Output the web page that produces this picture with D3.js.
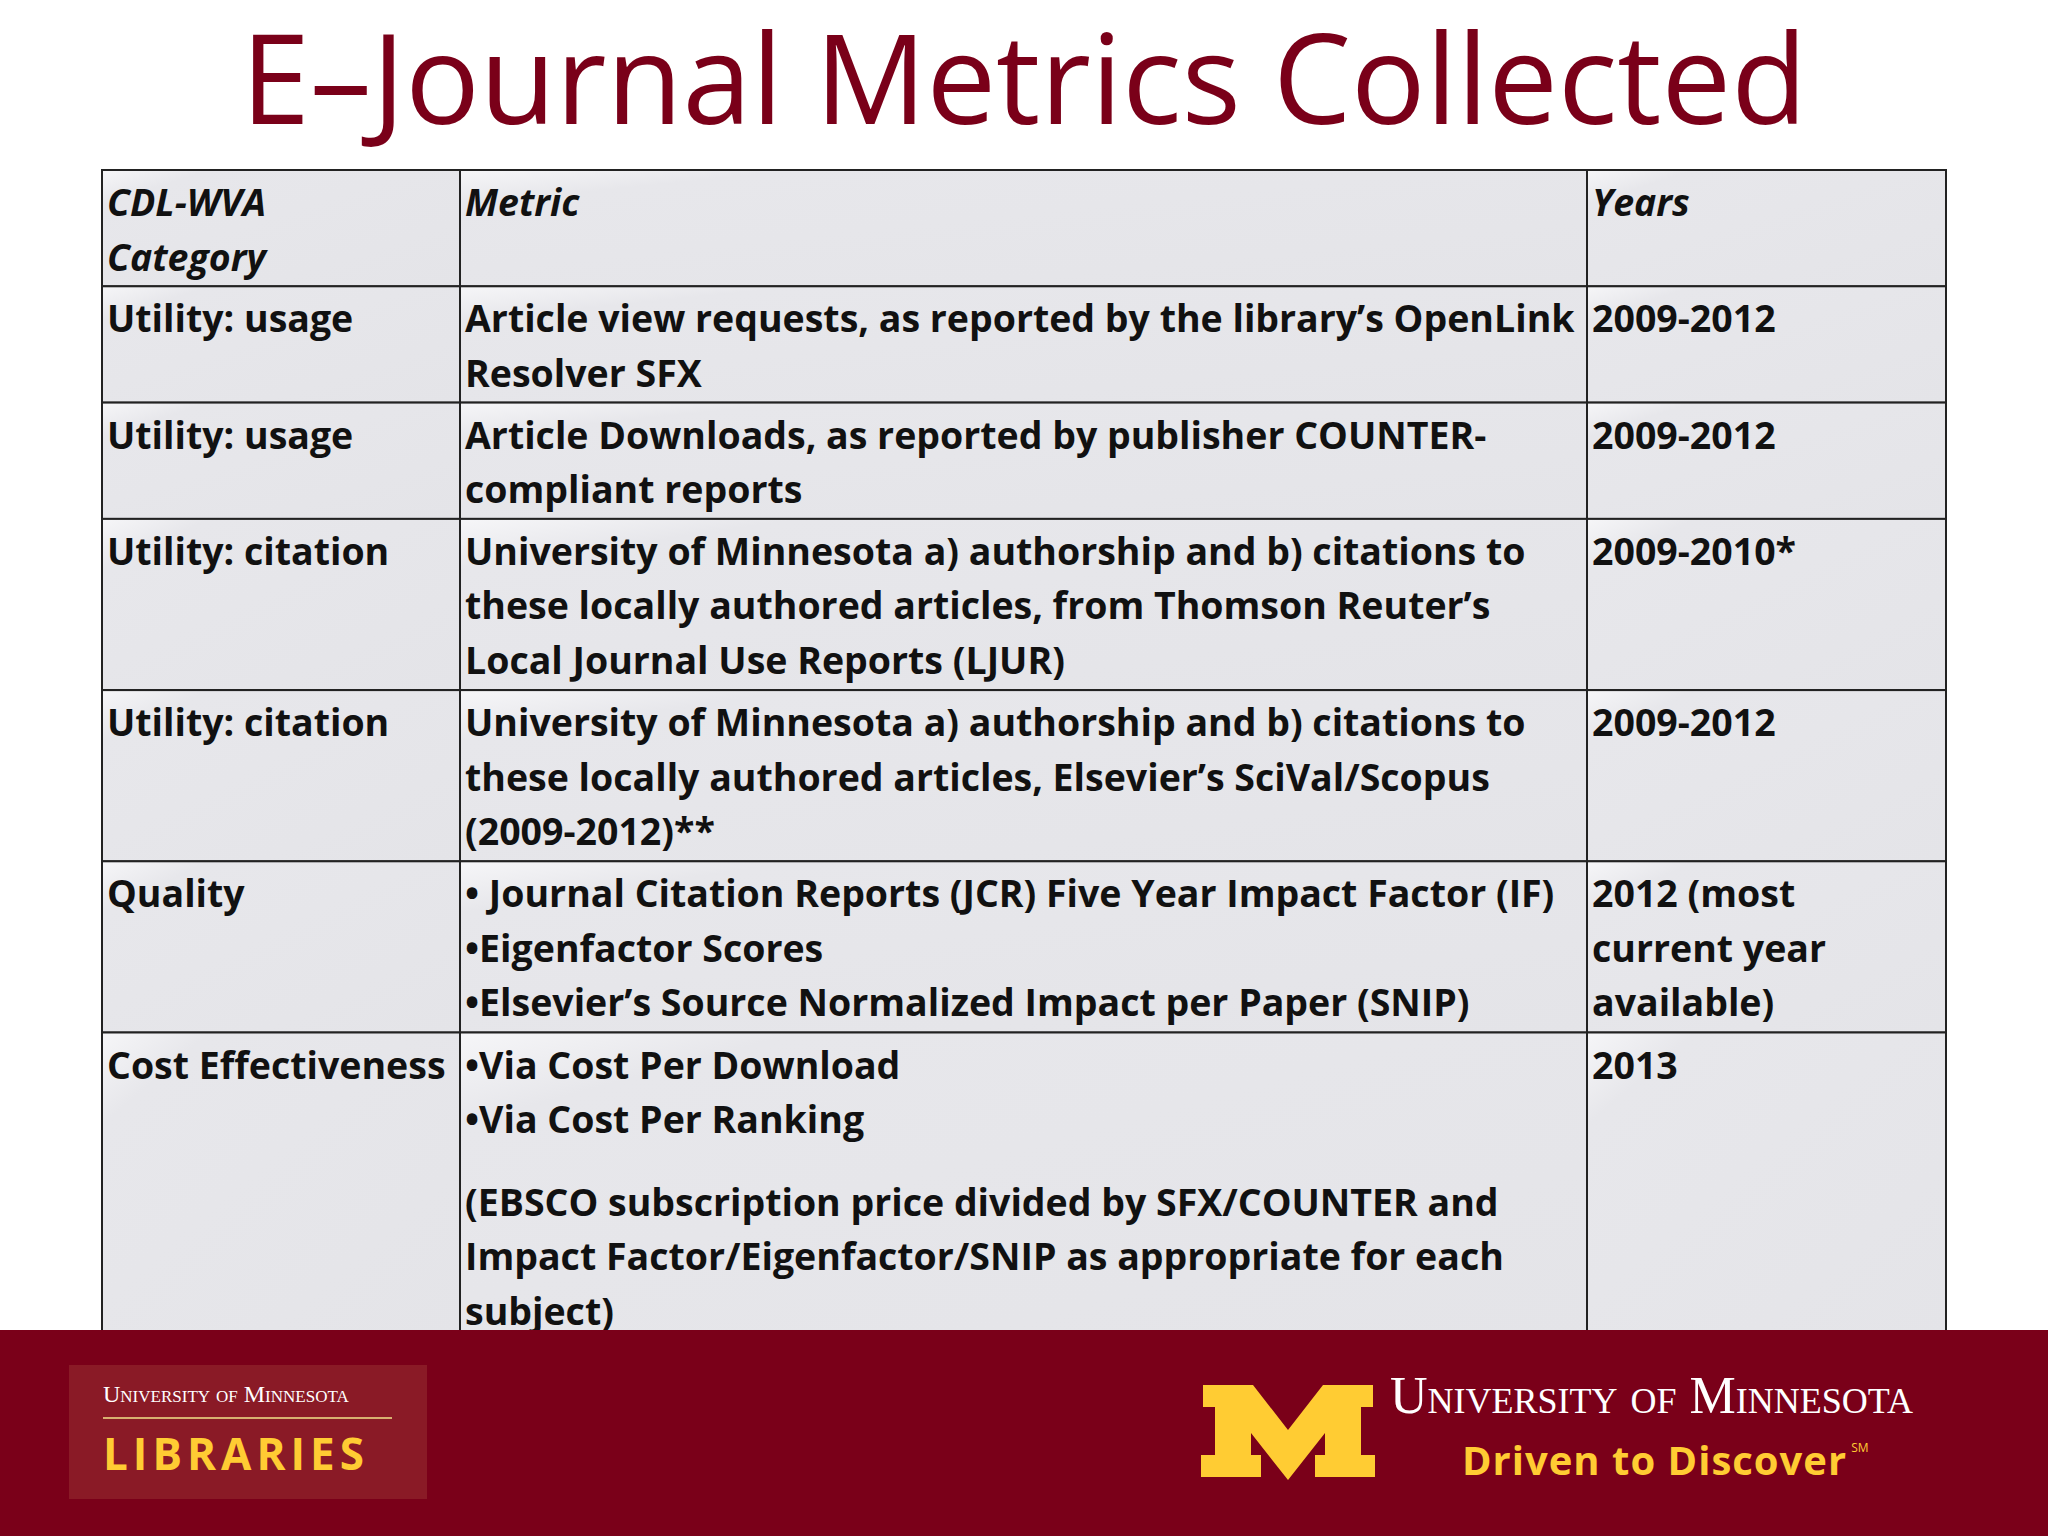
<!DOCTYPE html>
<html><head><meta charset="utf-8">
<script src="https://cdn.jsdelivr.net/npm/d3@7"></script>
<style>body{margin:0;background:#fff}svg{display:block}</style>
</head><body>
<svg id="chart" width="2048" height="1536"></svg>
<script>
// table contents
const headers = ["CDL-WVA\nCategory", "Metric", "Years"];
const categories = ["Utility: usage", "Utility: usage", "Utility: citation", "Utility: citation", "Quality", "Cost Effectiveness"];
const metrics = [
  ["Article view requests, as reported by the library\u2019s OpenLink", "Resolver SFX"],
  ["Article Downloads, as reported by publisher COUNTER-", "compliant reports"],
  ["University of Minnesota a) authorship and b) citations to", "these locally authored articles, from Thomson Reuter\u2019s", "Local Journal Use Reports (LJUR)"],
  ["University of Minnesota a) authorship and b) citations to", "these locally authored articles, Elsevier\u2019s SciVal/Scopus", "(2009-2012)**"],
  ["\u2022 Journal Citation Reports (JCR) Five Year Impact Factor (IF)", "\u2022Eigenfactor Scores", "\u2022Elsevier\u2019s Source Normalized Impact per Paper (SNIP)"],
  ["\u2022Via Cost Per Download", "\u2022Via Cost Per Ranking", "", "(EBSCO subscription price divided by SFX/COUNTER and", "Impact Factor/Eigenfactor/SNIP as appropriate for each", "subject)"]
];
const years = [["2009-2012"], ["2009-2012"], ["2009-2010*"], ["2009-2012"], ["2012 (most", "current year", "available)"], ["2013"]];
const rowLines = [2, 2, 2, 3, 3, 3, 5.5];

const svg = d3.select("#chart");
const red = "#7a0019", gold = "#ffcc33";
const font = "'Open Sans', Lato, sans-serif";

svg.append("text").attr("x", 1024).attr("y", 124).attr("text-anchor", "middle")
  .attr("font-family", font).attr("font-size", 124).attr("fill", red)
  .text("E\u2013Journal Metrics Collected");

// scales
const cum = [0];
rowLines.forEach(n => cum.push(cum[cum.length - 1] + n));
const y = d3.scaleLinear().domain([0, cum[cum.length - 1]]).range([170, 170 + 54.9 * cum[cum.length - 1]]);
const pad = 6.5;
const rowTop = i => y(cum[i]) + pad * i;
const x = d3.scaleOrdinal().domain([0, 1, 2, 3]).range([102, 460, 1587, 1946]);

const grad = svg.append("defs").append("linearGradient").attr("id", "cell").attr("x1", 0).attr("x2", 1).attr("y1", 0).attr("y2", 1);
grad.append("stop").attr("offset", 0).attr("stop-color", "#f6f6f8");
grad.append("stop").attr("offset", 0.15).attr("stop-color", "#e7e7eb");
grad.append("stop").attr("offset", 1).attr("stop-color", "#e4e4e8");

const rows = [[headers[0].split("\n"), [headers[1]], [headers[2]]]]
  .concat(categories.map((c, i) => [[c], metrics[i], years[i]]));

rows.forEach((r, i) => {
  const top = rowTop(i), bot = rowTop(i + 1);
  r.forEach((lines, j) => {
    svg.append("rect").attr("x", x(j)).attr("y", top).attr("width", x(j + 1) - x(j)).attr("height", bot - top)
      .attr("fill", "url(#cell)").attr("stroke", "#222").attr("stroke-width", 2);
    const t = svg.append("text").attr("font-family", font).attr("font-weight", "bold")
      .attr("font-style", i === 0 ? "italic" : "normal").attr("font-size", 37.5).attr("fill", "#111");
    let yy = top + 46;
    lines.forEach(ln => {
      t.append("tspan").attr("x", x(j) + 5).attr("y", yy).text(ln);
      yy += (ln === "" ? 28 : 54.5);
    });
  });
});

// footer
svg.append("rect").attr("x", 0).attr("y", 1330).attr("width", 2048).attr("height", 206).attr("fill", red);
svg.append("rect").attr("x", 69).attr("y", 1365).attr("width", 358).attr("height", 134).attr("fill", "#8a1a26");
svg.append("text").attr("x", 103).attr("y", 1402).attr("font-family", "'Liberation Serif', serif")
  .attr("font-size", 24).attr("fill", "#fff").attr("font-variant", "small-caps").text("University of Minnesota");
svg.append("line").attr("x1", 103).attr("x2", 392).attr("y1", 1418).attr("y2", 1418).attr("stroke", "#d8b070").attr("stroke-width", 2);
svg.append("text").attr("x", 103).attr("y", 1470).attr("font-family", font).attr("font-weight", "bold")
  .attr("font-size", 44).attr("letter-spacing", 5).attr("fill", gold).text("LIBRARIES");

// block M
const M = [[0,0],[50,0],[85,45],[120,0],[170,0],[170,22],[158,22],[158,70],[172,70],[172,92],[112,92],[112,70],[122,70],[122,48],[85,95],[48,48],[48,70],[58,70],[58,92],[-2,92],[-2,70],[12,70],[12,22],[0,22]];
svg.append("path").attr("transform", "translate(1203,1385)")
  .attr("d", d3.line()(M) + "Z").attr("fill", gold);
svg.append("text").attr("x", 1390).attr("y", 1413).attr("font-family", "'Liberation Serif', serif")
  .attr("font-size", 52).attr("fill", "#fff").attr("font-variant", "small-caps").text("University of Minnesota");
const dr = svg.append("text").attr("x", 1462).attr("y", 1475).attr("font-family", font).attr("font-weight", "bold")
  .attr("font-size", 40).attr("letter-spacing", 1).attr("fill", gold).text("Driven to Discover");
const drEnd = 1462 + dr.node().getComputedTextLength();
svg.append("text").attr("x", drEnd + 4).attr("y", 1452).attr("font-family", font).attr("font-size", 12).attr("fill", gold).text("SM");
</script>
</body></html>
